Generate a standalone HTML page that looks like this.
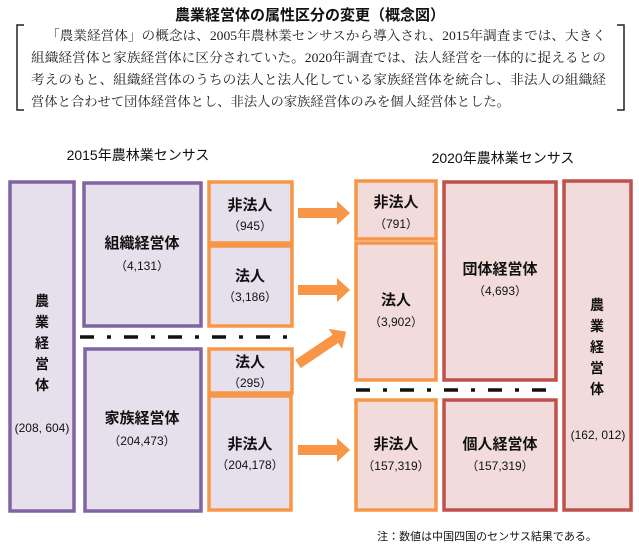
<!DOCTYPE html>
<html><head><meta charset="utf-8"><style>
body{margin:0;background:#fff;}
svg text{font-family:"Liberation Sans","Noto Sans CJK JP",sans-serif;}
.s{font-family:"Liberation Serif","Noto Serif CJK SC",serif !important;}
</style></head><body>
<svg width="639" height="553" viewBox="0 0 639 553" xmlns="http://www.w3.org/2000/svg">
<text x="310" y="20" font-size="15" font-weight="bold" text-anchor="middle" fill="#111">農業経営体の属性区分の変更（概念図）</text>
<path d="M24 25 H17 V110 H24" fill="none" stroke="#222" stroke-width="1.5"/>
<path d="M617 25 H624 V110 H617" fill="none" stroke="#222" stroke-width="1.5"/>
<g font-size="13" fill="#222">
<text class="s" x="46" y="40" textLength="560" lengthAdjust="spacingAndGlyphs">「農業経営体」の概念は、2005年農林業センサスから導入され、2015年調査までは、大きく</text>
<text class="s" x="31" y="62" textLength="575" lengthAdjust="spacingAndGlyphs">組織経営体と家族経営体に区分されていた。2020年調査では、法人経営を一体的に捉えるとの</text>
<text class="s" x="31" y="84" textLength="575" lengthAdjust="spacingAndGlyphs">考えのもと、組織経営体のうちの法人と法人化している家族経営体を統合し、非法人の組織経</text>
<text class="s" x="31" y="106" textLength="479" lengthAdjust="spacingAndGlyphs">営体と合わせて団体経営体とし、非法人の家族経営体のみを個人経営体とした。</text>
</g>
<text x="138" y="160" font-size="14" text-anchor="middle" fill="#111">2015年農林業センサス</text>
<text x="503" y="163" font-size="14" text-anchor="middle" fill="#111">2020年農林業センサス</text>
<g stroke-width="3.5" fill="#e6e0ec">
<rect x="10" y="182" width="64" height="329" stroke="#8064a2"/>
<rect x="84" y="183" width="117" height="143" stroke="#8064a2"/>
<rect x="85" y="349" width="116" height="162" stroke="#8064a2"/>
<rect x="209" y="182" width="83" height="61" stroke="#f79646"/>
<rect x="209" y="246" width="83" height="80" stroke="#f79646"/>
<rect x="209" y="349" width="83" height="44" stroke="#f79646"/>
<rect x="209" y="396" width="82" height="114" stroke="#f79646"/>
</g>
<g stroke-width="3.5" fill="#f2dcdb">
<rect x="356" y="181" width="80" height="58" stroke="#f79646"/>
<rect x="356" y="243" width="80" height="137" stroke="#f79646"/>
<rect x="356" y="400" width="80" height="110" stroke="#f79646"/>
<rect x="444" y="182" width="112" height="198" stroke="#c0504d"/>
<rect x="444" y="400" width="112" height="110" stroke="#c0504d"/>
<rect x="564" y="181" width="67" height="329" stroke="#c0504d"/>
</g>
<line x1="80" y1="337" x2="290" y2="337" stroke="#111" stroke-width="3.5" stroke-dasharray="14,13,4,13"/>
<line x1="356" y1="390" x2="550" y2="390" stroke="#111" stroke-width="3.5" stroke-dasharray="14,13,4,13"/>
<g fill="#f79646">
<polygon points="298,208 337,208 337,201 350,213 337,225 337,218 298,218"/>
<polygon points="298,285 337,285 337,278 350,290 337,302 337,295 298,295"/>
<polygon points="298,445 337,445 337,438 350,450 337,462 337,455 298,455"/>
<g transform="translate(298,364) rotate(-34)"><polygon points="0,-5 45,-5 45,-12 58,0 45,12 45,5 0,5"/></g>
</g>
<g font-size="14" fill="#111" text-anchor="middle" font-weight="bold">
<text x="42" y="306">農</text><text x="42" y="327">業</text><text x="42" y="348">経</text><text x="42" y="369">営</text><text x="42" y="390">体</text>
<text x="142" y="248" font-size="15">組織経営体</text>
<text x="142" y="423" font-size="15">家族経営体</text>
<text x="250" y="210" font-size="15">非法人</text>
<text x="250" y="281" font-size="15">法人</text>
<text x="250" y="367" font-size="15">法人</text>
<text x="250" y="449" font-size="15">非法人</text>
<text x="396" y="207" font-size="15">非法人</text>
<text x="396" y="305" font-size="15">法人</text>
<text x="396" y="449" font-size="15">非法人</text>
<text x="500" y="274" font-size="15">団体経営体</text>
<text x="500" y="449" font-size="15">個人経営体</text>
<text x="597" y="310">農</text><text x="597" y="331">業</text><text x="597" y="352">経</text><text x="597" y="373">営</text><text x="597" y="394">体</text>
</g>
<g font-size="12" fill="#111" text-anchor="middle">
<text x="42" y="432">(208, 604)</text>
<text x="142" y="270">（4,131）</text>
<text x="142" y="445">（204,473）</text>
<text x="250" y="230">（945）</text>
<text x="250" y="301">（3,186）</text>
<text x="250" y="387">（295）</text>
<text x="250" y="469">（204,178）</text>
<text x="396" y="228">（791）</text>
<text x="396" y="326">（3,902）</text>
<text x="396" y="470">（157,319）</text>
<text x="500" y="295">（4,693）</text>
<text x="500" y="470">（157,319）</text>
<text x="598" y="439">(162, 012)</text>
</g>
<text x="487" y="540" font-size="11" text-anchor="middle" fill="#111">注：数値は中国四国のセンサス結果である。</text>
</svg>
</body></html>
